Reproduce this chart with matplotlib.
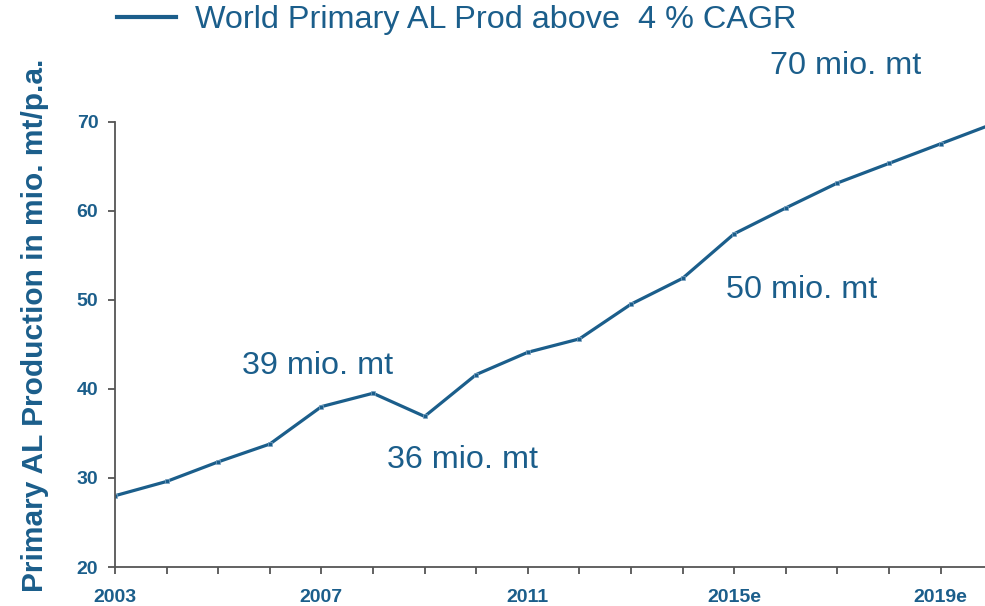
import matplotlib
matplotlib.use("Agg")
import matplotlib.pyplot as plt
from matplotlib.lines import Line2D

years = [2003, 2004, 2005, 2006, 2007, 2008, 2009, 2010, 2011, 2012,
         2013, 2014, 2015, 2016, 2017, 2018, 2019, 2020]
production = [28.0, 29.6, 31.8, 33.8, 38.0, 39.5, 36.9, 41.6, 44.1, 45.6,
              49.5, 52.4, 57.4, 60.3, 63.1, 65.3, 67.5, 69.7]
tick_years = [2003, 2007, 2011, 2015, 2019]
tick_labels = ["2003", "2007", "2011", "2015e", "2019e"]
y_ticks = [20, 30, 40, 50, 60, 70]
legend_label = "World Primary AL Prod above  4 % CAGR"
annotations = [("70 mio. mt", 770, 66), ("50 mio. mt", 726, 290),
               ("39 mio. mt", 242, 366), ("36 mio. mt", 387, 460)]

BLUE = "#1b5e8b"
W, H = 985, 606
plt.rcParams['font.family'] = ['Liberation Sans', 'DejaVu Sans']

fig = plt.figure(figsize=(W / 100, H / 100), dpi=100)
ax = fig.add_axes([115 / W, (H - 567) / H, (W - 115) / W, (567 - 121.5) / H])

ax.plot(years, production, color=BLUE, lw=2.3, marker='s', markersize=3.4,
        markerfacecolor=BLUE, markeredgecolor="#7fa5c4", markeredgewidth=0.5,
        clip_on=True)

ax.set_xticks(years[:-1])
ax.set_xticklabels([tick_labels[tick_years.index(y)] if y in tick_years else ""
                    for y in years[:-1]])
ax.set_yticks(y_ticks)
ax.set_yticklabels([str(v) for v in y_ticks])
ax.set_xlim(2003, 2019.86)
ax.set_ylim(20, 70)

for s in ["top", "right"]:
    ax.spines[s].set_visible(False)
for s in ["left", "bottom"]:
    ax.spines[s].set_color("#555555")
    ax.spines[s].set_linewidth(1.3)

ax.tick_params(axis='x', direction='out', length=5, width=1.3, color="#555555",
               pad=11, labelsize=14, labelcolor=BLUE)
ax.tick_params(axis='y', direction='out', length=5, width=1.3, color="#555555",
               pad=7, labelsize=14, labelcolor=BLUE)
for lab in ax.get_xticklabels() + ax.get_yticklabels():
    lab.set_fontweight('bold')

fig.text(35 / W, 1 - 325 / H, "Primary AL Production in mio. mt/p.a.",
         rotation=90, ha='center', va='center', fontsize=21.5,
         fontweight='bold', color=BLUE)

for txt, x, y in annotations:
    fig.text(x / W, 1 - y / H, txt, ha='left', va='center', fontsize=23.3,
             color=BLUE)

handle = Line2D([], [], color=BLUE, lw=3)
fig.legend([handle], [legend_label], loc='center left',
           bbox_to_anchor=(117 / W, 1 - 20 / H), frameon=False, fontsize=23.3,
           labelcolor=BLUE, handlelength=1.82, handletextpad=0.59,
           borderpad=0, borderaxespad=0)

fig.savefig("out.png", dpi=100)
